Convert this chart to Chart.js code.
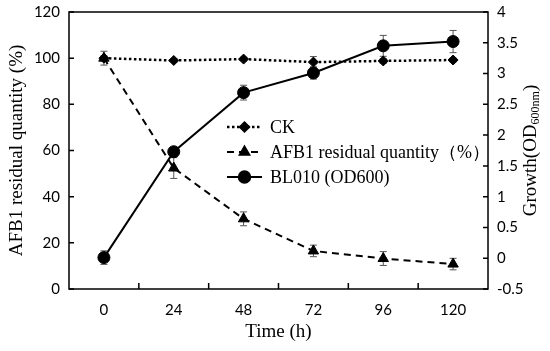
<!DOCTYPE html>
<html><head><meta charset="utf-8">
<script src="https://cdn.jsdelivr.net/npm/chart.js@4/dist/chart.umd.min.js"></script>
<style>html,body{margin:0;padding:0;background:#fff}</style>
</head><body>
<canvas id="c" width="550" height="351"></canvas>
<script>
// ---- data ----
const timeLabels = ['0', '24', '48', '72', '96', '120'];
const ckValues = [100, 99, 99.6, 98.3, 98.8, 99.2];
const ckErrors = [1, 0.8, 0.8, 2.4, 1, 0.8];
const afb1Values = [100, 52.4, 30.4, 16.5, 13.2, 10.8];
const afb1Errors = [3, 4.5, 3, 2.5, 3, 2.5];
const bl010Values = [0.01, 1.73, 2.69, 3.01, 3.45, 3.52];
const bl010Errors = [0.11, 0.05, 0.12, 0.1, 0.17, 0.18];
const leftAxisRange = [0, 120, 20];
const rightAxisRange = [-0.5, 4, 0.5];
const seriesNames = ['CK', 'AFB1 residual quantity\uFF08%\uFF09', 'BL010 (OD600)'];
const xTitle = 'Time (h)';
const leftTitle = 'AFB1 residual quantity (%)';

const SERIF = '"Liberation Serif", "Times New Roman", serif';
const SANS = 'Lato, "Open Sans", sans-serif';

const styles = [
  {dash: [2.5, 2.5], width: 2.5, point: 'rectRot', radius: 5},
  {dash: [7, 5], width: 2, point: 'triangle', radius: 6},
  {dash: [], width: 2, point: 'circle', radius: 6}
];

const errorsByDataset = [ckErrors, afb1Errors, bl010Errors];

const frameAndExtras = {
  id: 'frameAndExtras',
  beforeDatasetsDraw(chart) {
    const ctx = chart.ctx;
    ctx.save();
    ctx.strokeStyle = '#555';
    ctx.lineWidth = 1;
    chart.data.datasets.forEach((ds, di) => {
      const meta = chart.getDatasetMeta(di);
      const ys = chart.scales[ds.yAxisID];
      const errs = errorsByDataset[di];
      meta.data.forEach((pt, i) => {
        const v = ds.data[i], e = errs[i];
        const yt = ys.getPixelForValue(v + e), yb = ys.getPixelForValue(v - e);
        ctx.beginPath();
        ctx.moveTo(pt.x, yt); ctx.lineTo(pt.x, yb);
        ctx.moveTo(pt.x - 3.5, yt); ctx.lineTo(pt.x + 3.5, yt);
        ctx.moveTo(pt.x - 3.5, yb); ctx.lineTo(pt.x + 3.5, yb);
        ctx.stroke();
      });
    });
    ctx.restore();
  },
  afterDraw(chart) {
    const ctx = chart.ctx;
    const a = chart.chartArea;
    ctx.save();
    ctx.strokeStyle = '#000';
    ctx.lineWidth = 1.5;
    ctx.strokeRect(a.left, a.top, a.right - a.left, a.bottom - a.top);
    // inward ticks
    ctx.beginPath();
    const yl = chart.scales.yL, yr = chart.scales.yR, x = chart.scales.x;
    yl.ticks.forEach(t => { const p = yl.getPixelForValue(t.value); ctx.moveTo(a.left, p); ctx.lineTo(a.left + 5, p); });
    yr.ticks.forEach(t => { const p = yr.getPixelForValue(t.value); ctx.moveTo(a.right, p); ctx.lineTo(a.right - 5, p); });
    for (let i = 1; i < timeLabels.length; i++) {
      const p = (x.getPixelForValue(i - 1) + x.getPixelForValue(i)) / 2;
      ctx.moveTo(p, a.bottom); ctx.lineTo(p, a.bottom - 6);
    }
    ctx.stroke();

    // titles
    ctx.fillStyle = '#000';
    ctx.textBaseline = 'middle';
    ctx.textAlign = 'center';
    ctx.font = '19px ' + SERIF;
    ctx.fillText(xTitle, (a.left + a.right) / 2, 332);
    ctx.save();
    ctx.translate(17, (a.top + a.bottom) / 2);
    ctx.rotate(-Math.PI / 2);
    ctx.fillText(leftTitle, 0, 0);
    ctx.restore();
    // right title with subscript
    ctx.save();
    ctx.translate(531, (a.top + a.bottom) / 2);
    ctx.rotate(-Math.PI / 2);
    const mainF = '19px ' + SERIF, subF = '12px ' + SERIF;
    const parts = [['Growth(OD', mainF, 0], ['600nm', subF, 5], [')', mainF, 0]];
    let total = 0;
    parts.forEach(p => { ctx.font = p[1]; total += ctx.measureText(p[0]).width; });
    let cx = -total / 2;
    ctx.textAlign = 'left';
    parts.forEach(p => { ctx.font = p[1]; ctx.fillText(p[0], cx, p[2]); cx += ctx.measureText(p[0]).width; });
    ctx.restore();

    // legend
    const rows = [127, 152, 177];
    ctx.font = '18px ' + SERIF;
    ctx.textAlign = 'left';
    rows.forEach((ry, i) => {
      const s = styles[i];
      ctx.save();
      ctx.strokeStyle = '#000';
      ctx.lineWidth = s.width;
      ctx.setLineDash(s.dash);
      ctx.beginPath(); ctx.moveTo(227, ry); ctx.lineTo(262, ry); ctx.stroke();
      ctx.restore();
      Chart.helpers.drawPoint(ctx, {pointStyle: s.point, radius: s.radius, borderWidth: 1, rotation: 0}, 244.5, ry);
      ctx.fillStyle = '#000';
      ctx.fillText(seriesNames[i], 270, ry + 1);
    });
    ctx.restore();
  }
};

function mk(label, data, axis, s) {
  return {
    label, data, yAxisID: axis,
    borderColor: '#000', backgroundColor: '#000',
    borderWidth: s.width, borderDash: s.dash,
    pointStyle: s.point, pointRadius: s.radius, pointHoverRadius: s.radius,
    pointBackgroundColor: '#000', pointBorderColor: '#000', pointBorderWidth: 1,
    tension: 0, fill: false
  };
}

const fmt = v => String(+Number(v).toFixed(1));

new Chart(document.getElementById('c'), {
  type: 'line',
  data: {
    labels: timeLabels,
    datasets: [
      mk(seriesNames[0], ckValues, 'yL', styles[0]),
      mk(seriesNames[1], afb1Values, 'yL', styles[1]),
      mk(seriesNames[2], bl010Values, 'yR', styles[2])
    ]
  },
  options: {
    responsive: false, animation: false, devicePixelRatio: 1,
    layout: {padding: {top: 12, left: 0, right: 0, bottom: 0}, autoPadding: false},
    plugins: {legend: {display: false}, tooltip: {enabled: false}},
    scales: {
      x: {
        type: 'category', offset: true,
        grid: {display: false, drawTicks: false}, border: {display: false},
        ticks: {color: '#000', font: {family: SANS, size: 15}, padding: 12, maxRotation: 0},
        afterFit(s) { s.height = 62; s.paddingLeft = 0; s.paddingRight = 0; }
      },
      yL: {
        position: 'left', min: leftAxisRange[0], max: leftAxisRange[1],
        grid: {display: false, drawTicks: false}, border: {display: false},
        ticks: {stepSize: leftAxisRange[2], color: '#000', font: {family: SANS, size: 15}, padding: 9, callback: fmt},
        afterFit(s) { s.width = 69; s.paddingTop = 0; s.paddingBottom = 0; }
      },
      yR: {
        position: 'right', min: rightAxisRange[0], max: rightAxisRange[1],
        grid: {display: false, drawTicks: false}, border: {display: false},
        ticks: {stepSize: rightAxisRange[2], color: '#000', font: {family: SANS, size: 15}, padding: 9, callback: fmt},
        afterFit(s) { s.width = 62; s.paddingTop = 0; s.paddingBottom = 0; }
      }
    }
  },
  plugins: [frameAndExtras]
});
</script>
</body></html>
